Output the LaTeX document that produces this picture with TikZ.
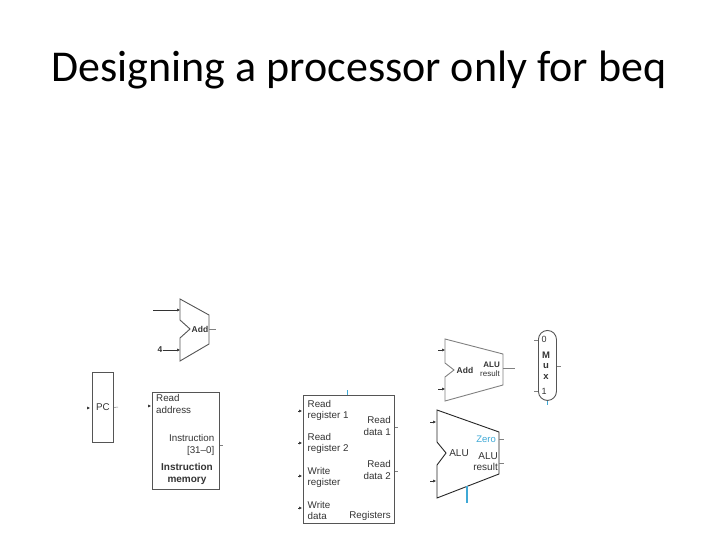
\documentclass[tikz,border=0pt]{standalone}
\usepackage{fontspec}
\setmainfont{Carlito}
\newfontfamily\lab{Liberation Sans}
\usetikzlibrary{arrows.meta}
\definecolor{zblue}{HTML}{3FA9D6}
\definecolor{ink}{HTML}{333333}
\definecolor{edge}{HTML}{555555}
\tikzset{
 x=1pt,y=-1pt,
 unit/.style={draw=edge,line width=0.9pt,fill=white,line join=miter},
 lbl/.style={font=\lab\fontsize{9.8}{11.5}\selectfont,text=ink,inner sep=0pt,align=left},
 lblr/.style={lbl,align=right},
 blbl/.style={font=\lab\bfseries\fontsize{8.5}{10}\selectfont,text=ink,inner sep=0pt,align=center},
 memlbl/.style={font=\lab\bfseries\fontsize{10}{12}\selectfont,text=ink,inner sep=0pt,align=center},
 stub/.style={draw=gray,line width=0.5pt},
 inarrow/.style={draw=ink,line width=0.5pt,-{Latex[length=3pt,width=3pt]}},
}
\begin{document}
\begin{tikzpicture}
\useasboundingbox (0,0) rectangle (720,540);
\node[font=\fontsize{44}{52}\selectfont,text=black,inner sep=0pt] (title) at (359,70) {Designing a processor only for beq};

% Adder 1
\path[unit] (180,299) -- (209,315) -- (209,344) -- (180,361) -- (180,338) -- (190,329) -- (180,320) -- cycle;
\node[blbl] (add1) at (200,329) {Add};
\node[blbl] (four) at (160,350) {4};
\coordinate (a1in) at (153,310); \coordinate (a1t) at (180,310); \coordinate (a1b) at (180,350);
\coordinate (a1o) at (209,329); \coordinate (a1oe) at (216,329);
\draw[inarrow] (a1in) -- (a1t);
\draw[inarrow] (four) -- (a1b);
\draw[stub] (a1o) -- (a1oe);

% PC
\node[draw=edge,line width=0.9pt,minimum width=21pt,minimum height=70pt,inner sep=0pt,anchor=north west,font=\lab\fontsize{9.8}{11}\selectfont,text=ink] (pc) at (92,372) {PC};
\coordinate (pcin) at (88,408); \coordinate (pcout) at (118,407);
\draw[inarrow] (pcin) -- (90,408);
\draw[stub] (pc.east) -- (pcout);

% Instruction memory
\node[draw=edge,line width=0.9pt,minimum width=67pt,minimum height=97pt,inner sep=0pt,anchor=north west] (im) at (152,392) {};
\node[lbl,anchor=north west] (ra) at (156,394.5) {Read\\address};
\node[lblr,anchor=north east] (ins) at (214.5,434.5) {Instruction\\{[31–0]}};
\node[memlbl,anchor=north] (imn) at (187,463) {Instruction\\memory};
\coordinate (imin) at (148,406); \coordinate (imout) at (223,445);
\draw[inarrow] (imin) -- (151,406);
\draw[stub] (im.east |- imout) -- (imout);

% Registers
\node[draw=edge,line width=0.9pt,minimum width=91pt,minimum height=128pt,inner sep=0pt,anchor=north west] (regs) at (303,395) {};
\node[lbl,anchor=north west] at (307.5,400) {Read\\register 1};
\node[lbl,anchor=north west] at (307.5,433) {Read\\register 2};
\node[lbl,anchor=north west] at (307.5,467) {Write\\register};
\node[lbl,anchor=north west] at (307.5,501) {Write\\data};
\node[lblr,anchor=north east] at (391,416.5) {Read\\data 1};
\node[lblr,anchor=north east] at (391,460.5) {Read\\data 2};
\node[lbl,anchor=south east] (rn) at (391,521) {Registers};
\foreach \y/\n in {411/r1,443/r2,476/r3,508/r4}{
  \coordinate (\n) at (298,\y);
  \draw[inarrow] (\n) -- (302,\y);
}
\coordinate (rwc) at (347,390); \coordinate (rd1) at (398,427); \coordinate (rd2) at (398,471);
\draw[draw=zblue,line width=0.5pt] (rwc) -- (regs.north -| rwc);
\draw[stub] (regs.east |- rd1) -- (rd1);
\draw[stub] (regs.east |- rd2) -- (rd2);

% Adder 2
\path[draw=gray,line width=0.9pt,fill=white] (445,339) -- (503,354) -- (503,385) -- (445,401) -- (445,377) -- (454,370) -- (445,363) -- cycle;
\node[blbl] (add2) at (465,370) {Add};
\node[font=\lab\bfseries\fontsize{8}{9}\selectfont,text=ink,inner sep=0pt,align=right,anchor=east] (alur) at (500,369.5) {ALU\\{\mdseries result}};
\coordinate (a2o) at (503,368); \coordinate (a2oe) at (515,368);
\coordinate (a2i1) at (438,350); \coordinate (a2i2) at (438,389);
\draw[draw=gray,line width=1pt] (a2o) -- (a2oe);
\draw[inarrow] (a2i1) -- (445,350);
\draw[inarrow] (a2i2) -- (445,389);

% Mux
\node[draw=edge,line width=0.9pt,rounded corners=9pt,minimum width=18pt,minimum height=70pt,inner sep=0pt,anchor=north west] (mux) at (538,330) {};
\node[font=\lab\fontsize{9}{10}\selectfont,text=ink,inner sep=0pt] (m0) at (544,339) {0};
\node[font=\lab\fontsize{9}{10}\selectfont,text=ink,inner sep=0pt] (m1) at (544,391) {1};
\node[font=\lab\bfseries\fontsize{9.5}{10.5}\selectfont,text=ink,inner sep=0pt,align=center] (mt) at (546,365.5) {M\\u\\x};
\coordinate (mi0) at (534,340); \coordinate (mi1) at (534,391); \coordinate (mo) at (561,366); \coordinate (mc) at (547,405);
\draw[stub] (mi0) -- (mi0 -| mux.west);
\draw[stub] (mi1) -- (mi1 -| mux.west);
\draw[stub] (mux.east |- mo) -- (mo);
\draw[draw=zblue,line width=0.5pt] (mux.south -| mc) -- (mc);

% ALU
\path[draw=black!85,line width=0.9pt,fill=white] (437,410) -- (499,432) -- (499,474) -- (437,498) -- (437,465) -- (446,453) -- (437,442) -- cycle;
\node[font=\lab\fontsize{10}{11}\selectfont,text=ink,inner sep=0pt] (alu) at (459,453) {ALU};
\node[font=\lab\fontsize{9.5}{11}\selectfont,text=zblue,inner sep=0pt,anchor=east] (zero) at (496,439) {Zero};
\node[lblr,font=\lab\fontsize{10}{11.5}\selectfont,anchor=north east] (alures) at (498,452) {ALU\\result};
\coordinate (azi) at (499,439); \coordinate (aze) at (504,439);
\coordinate (ari) at (499,463); \coordinate (are) at (504,463);
\coordinate (ai1) at (430,422); \coordinate (ai2) at (430,481);
\coordinate (ac) at (467,486); \coordinate (ace) at (467,503);
\draw[stub] (azi) -- (aze);
\draw[stub] (ari) -- (are);
\draw[inarrow] (ai1) -- (436,422);
\draw[inarrow] (ai2) -- (436,481);
\draw[draw=zblue,line width=1.5pt] (ac) -- (ace);
\end{tikzpicture}
\end{document}
